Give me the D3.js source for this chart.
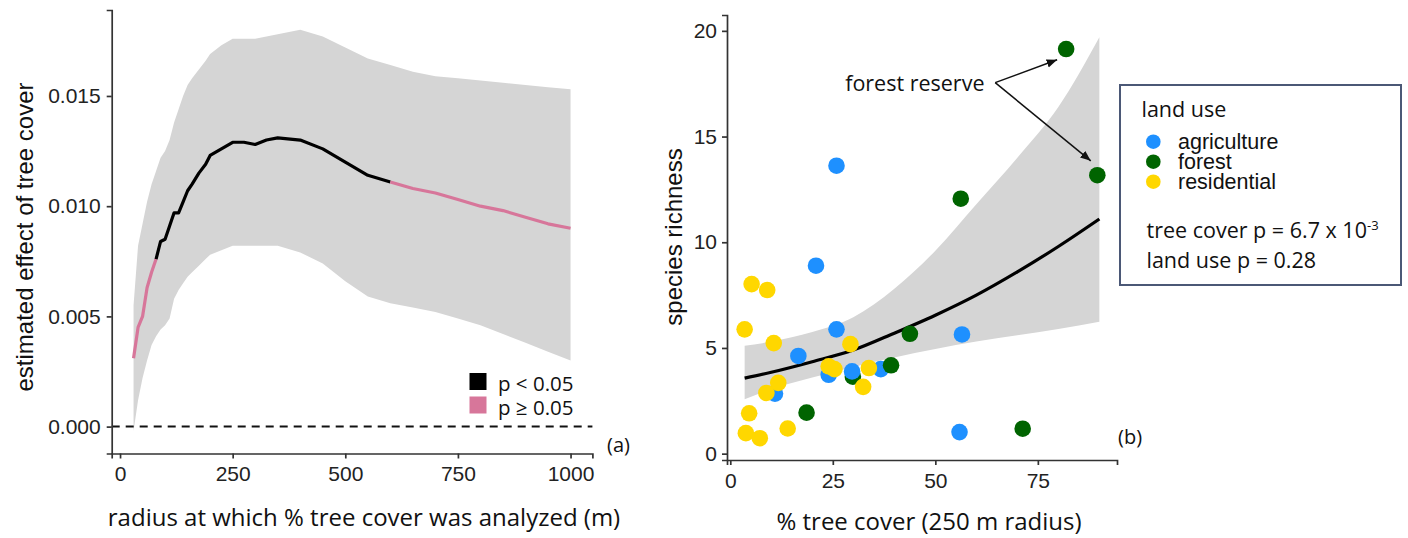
<!DOCTYPE html>
<html lang="en">

<head>
  <meta charset="UTF-8">
  <title>tree cover effect</title>
  <script src="https://d3js.org/d3.v7.min.js"></script>
  <style>
    body { margin: 0; background: white; }
    .axis path, .axis line { stroke: #333; stroke-width: 1.7px; }
    .axis text { font-family: "Liberation Sans", Arial, sans-serif; font-size: 21px; fill: #222; }
    .ytitle { font-family: "Liberation Sans", Arial, sans-serif; font-size: 24px; fill: #111; }
    .xtitle { font-family: "Open Sans", sans-serif; font-size: 24px; fill: #111; }
    .note { font-family: "Open Sans", sans-serif; fill: #111; }
  </style>
</head>

<body>
  <svg id="chart" width="1408" height="538"></svg>

  <script>
    // ---- panel (a): moving-window effect of tree cover ----
    const radius = [30, 40, 50, 60, 70, 80, 90, 100, 110, 120, 130, 140, 150, 160, 175, 190, 200, 225, 250, 275,
      300, 325, 350, 400, 450, 500, 550, 600, 650, 700, 750, 800, 850, 900, 950, 1000];
    const effect = [.0031, .0045, .0050, .0063, .0070, .0076, .0084, .0085, .0091, .0097, .0097, .0102, .0107, .0110,
      .0115, .0119, .0123, .0126, .0129, .0129, .0128, .0130, .0131, .0130, .0126, .0120, .0114, .0111, .0108, .0106,
      .0103, .0100, .0098, .0095, .0092, .0090];
    const effectUpper = [.0055, .0082, .0092, .0102, .0110, .0116, .0122, .0125, .0130, .0138, .0144, .0150, .0155,
      .0158, .0162, .0166, .0169, .0173, .0176, .0176, .0176, .0177, .0178, .0180, .0177, .0172, .0167, .0164, .0161,
      .0159, .0158, .0157, .0156, .0155, .0154, .0153];
    const effectLower = [-.0002, .0012, .0022, .0030, .0037, .0041, .0044, .0046, .0049, .0058, .0062, .0065, .0068,
      .0070, .0073, .0076, .0078, .0080, .0082, .0082, .0082, .0082, .0082, .0079, .0074, .0066, .0059, .0056, .0054,
      .0052, .0049, .0046, .0042, .0038, .0034, .0030];
    // 1 = p < 0.05, 0 = p >= 0.05
    const significant = [0, 0, 0, 0, 0, 1, 1, 1, 1, 1, 1, 1, 1, 1, 1, 1, 1, 1, 1, 1,
      1, 1, 1, 1, 1, 1, 1, 1, 0, 0, 0, 0, 0, 0, 0, 0];
    const radiusTicks = [0, 250, 500, 750, 1000];
    const effectTicks = [0, 0.005, 0.010, 0.015];
    const sigLabels = ["p < 0.05", "p \u2265 0.05"];

    // ---- panel (b): species richness vs tree cover ----
    const treeCover = [81.9, 89.5, 56.2, 43.8, 29.9, 18.6, 71.3,
      25.9, 20.9, 25.9, 56.5, 16.6, 24.0, 29.7, 36.7, 10.9, 55.9,
      5.2, 9.0, 3.5, 10.6, 29.3, 24.0, 25.4, 33.8, 11.7, 8.8, 32.4, 4.6, 3.8, 7.2, 14.0,
      39.2];
    const richness = [19.14, 13.17, 12.06, 5.67, 3.64, 1.94, 1.18,
      13.62, 8.89, 5.88, 5.64, 4.62, 3.73, 3.89, 4.00, 2.84, 1.02,
      8.02, 7.74, 5.88, 5.23, 5.18, 4.13, 4.00, 4.05, 3.35, 2.87, 3.16, 1.91, 0.97, 0.73, 1.19,
      4.18];
    const landUse = ["forest", "forest", "forest", "forest", "forest", "forest", "forest",
      "agriculture", "agriculture", "agriculture", "agriculture", "agriculture", "agriculture", "agriculture",
      "agriculture", "agriculture", "agriculture",
      "residential", "residential", "residential", "residential", "residential", "residential", "residential",
      "residential", "residential", "residential", "residential", "residential", "residential", "residential",
      "residential",
      "forest"];
    const fitCover = [3.5, 10, 20, 30, 40, 50, 60, 70, 80, 90];
    const fitRichness = [3.57, 3.85, 4.35, 4.9, 5.7, 6.55, 7.5, 8.6, 9.8, 11.1];
    const fitUpper = [5.1, 5.3, 5.75, 6.45, 7.8, 9.6, 11.8, 14.0, 16.4, 19.7];
    const fitLower = [2.57, 3.05, 3.6, 4.1, 4.55, 4.95, 5.3, 5.6, 5.9, 6.24];
    const coverTicks = [0, 25, 50, 75];
    const richnessTicks = [0, 5, 10, 15, 20];
    const landUseCats = ["agriculture", "forest", "residential"];
    const landUseColors = ["#1e90ff", "#006400", "#ffd700"];
    // forest reserve label + arrow tips (data units)
    const reserveLabel = { cover: 45.0, rich: 17.55, text: "forest reserve" };
    const arrowStart = [64.6, 17.55];
    const arrowEnds = [[79.7, 18.63], [87.9, 13.85]];

    const svg = d3.select("#chart");
    const gray = "#d5d5d5";
    const pink = "#d7769a";

    // ================= panel (a) =================
    const xA = d3.scaleLinear().domain([-18.5, 1048.5]).range([111.7, 592.4]);
    const yA = d3.scaleLinear().domain([-0.00122, 0.0189]).range([453.5, 10]);
    const A = svg.append("g");

    const rowsA = radius.map((r, i) => ({ r: r, m: effect[i], lo: effectLower[i], hi: effectUpper[i], s: significant[i] }));

    A.append("path").datum(rowsA)
      .attr("fill", gray)
      .attr("d", d3.area().x(d => xA(d.r)).y0(d => yA(d.lo)).y1(d => yA(d.hi)));

    A.append("line")
      .attr("x1", xA.range()[0]).attr("x2", xA.range()[1])
      .attr("y1", yA(0)).attr("y2", yA(0))
      .attr("stroke", "#111").attr("stroke-width", 2).attr("stroke-dasharray", "8,6");

    // split into runs of equal significance; boundary points shared
    const runs = [];
    let cur = null;
    rowsA.forEach((d, i) => {
      if (i === 0) { cur = { s: d.s, pts: [d] }; return; }
      const prev = rowsA[i - 1];
      const segSig = prev.s && d.s ? 1 : 0;
      if (cur.s === segSig) { cur.pts.push(d); }
      else { runs.push(cur); cur = { s: segSig, pts: [prev, d] }; }
    });
    runs.push(cur);
    const lineA = d3.line().x(d => xA(d.r)).y(d => yA(d.m));
    A.selectAll(".run").data(runs).join("path")
      .attr("class", "run")
      .attr("fill", "none")
      .attr("stroke", d => d.s ? "#000" : pink)
      .attr("stroke-width", 3.2)
      .attr("stroke-linejoin", "round")
      .attr("d", d => lineA(d.pts));

    A.append("g").attr("class", "axis")
      .attr("transform", "translate(0," + yA.range()[0] + ")")
      .call(d3.axisBottom(xA).tickValues(radiusTicks).tickFormat(d3.format("d"))
        .tickSizeOuter(0).tickSize(5).tickPadding(8));
    A.append("g").attr("class", "axis")
      .attr("transform", "translate(" + xA.range()[0] + ",0)")
      .call(d3.axisLeft(yA).tickValues(effectTicks).tickFormat(d3.format(".3f")).tickSizeOuter(0).tickSize(5).tickPadding(6));

    A.append("text").attr("class", "ytitle")
      .attr("transform", "translate(24,237) rotate(-90)")
      .attr("text-anchor", "middle").attr("dominant-baseline", "central")
      .text("estimated effect of tree cover");
    A.append("text").attr("class", "xtitle")
      .attr("x", 364).attr("y", 526).attr("text-anchor", "middle")
      .text("radius at which % tree cover was analyzed (m)");

    // significance legend
    const legA = A.append("g").attr("transform", "translate(469.5,373)");
    sigLabels.forEach((lab, i) => {
      legA.append("rect").attr("x", 0).attr("y", i * 23.5).attr("width", 17).attr("height", 17)
        .attr("fill", i === 0 ? "#000" : pink);
      legA.append("text").attr("class", "note").attr("x", 28.5).attr("y", i * 23.5 + 18)
        .style("font-size", "20.5px").text(lab);
    });
    A.append("text").attr("class", "note").attr("x", 607).attr("y", 452)
      .style("font-size", "20px").text("(a)");

    // ================= panel (b) =================
    const xB = d3.scaleLinear().domain([-0.8, 94.3]).range([727, 1117]);
    const yB = d3.scaleLinear().domain([-0.3, 20.75]).range([460, 15]);
    const colorB = d3.scaleOrdinal().domain(landUseCats).range(landUseColors);
    const B = svg.append("g");

    const rowsFit = fitCover.map((c, i) => ({ c: c, m: fitRichness[i], lo: fitLower[i], hi: fitUpper[i] }));
    B.append("path").datum(rowsFit)
      .attr("fill", gray)
      .attr("d", d3.area().curve(d3.curveMonotoneX).x(d => xB(d.c)).y0(d => yB(d.lo)).y1(d => yB(d.hi)));
    B.append("path").datum(rowsFit)
      .attr("fill", "none").attr("stroke", "#000").attr("stroke-width", 3.2)
      .attr("d", d3.line().curve(d3.curveMonotoneX).x(d => xB(d.c)).y(d => yB(d.m)));

    const pts = treeCover.map((c, i) => ({ c: c, r: richness[i], u: landUse[i] }));
    B.selectAll("circle.pt").data(pts).join("circle")
      .attr("class", "pt")
      .attr("cx", d => xB(d.c)).attr("cy", d => yB(d.r)).attr("r", 8.3)
      .attr("fill", d => colorB(d.u));

    B.append("g").attr("class", "axis")
      .attr("transform", "translate(0," + yB.range()[0] + ")")
      .call(d3.axisBottom(xB).tickValues(coverTicks).tickSizeOuter(0).tickSize(5).tickPadding(8));
    B.append("g").attr("class", "axis")
      .attr("transform", "translate(" + xB.range()[0] + ",0)")
      .call(d3.axisLeft(yB).tickValues(richnessTicks).tickSizeOuter(0).tickSize(5).tickPadding(5));

    B.append("text").attr("class", "ytitle")
      .attr("transform", "translate(673,237) rotate(-90)")
      .attr("text-anchor", "middle").attr("dominant-baseline", "central")
      .text("species richness");
    B.append("text").attr("class", "xtitle")
      .attr("x", 929).attr("y", 530).attr("text-anchor", "middle")
      .text("% tree cover (250 m radius)");
    B.append("text").attr("class", "note").attr("x", 1118).attr("y", 444)
      .style("font-size", "20px").text("(b)");

    // forest reserve annotation
    svg.append("defs").append("marker")
      .attr("id", "arrow").attr("viewBox", "0 0 10 10").attr("refX", 10).attr("refY", 5)
      .attr("markerWidth", 7).attr("markerHeight", 7).attr("orient", "auto")
      .append("path").attr("d", "M0,1 L10,5 L0,9 Z").attr("fill", "#111");
    B.append("text").attr("class", "note")
      .attr("x", xB(reserveLabel.cover)).attr("y", yB(reserveLabel.rich))
      .attr("text-anchor", "middle").attr("dominant-baseline", "central")
      .style("font-size", "21.5px").text(reserveLabel.text);
    arrowEnds.forEach(e => {
      B.append("line")
        .attr("x1", xB(arrowStart[0])).attr("y1", yB(arrowStart[1]))
        .attr("x2", xB(e[0])).attr("y2", yB(e[1]))
        .attr("stroke", "#111").attr("stroke-width", 1.5)
        .attr("marker-end", "url(#arrow)");
    });

    // land use legend box
    const leg = svg.append("g");
    leg.append("rect").attr("x", 1120).attr("y", 85).attr("width", 281).attr("height", 200)
      .attr("fill", "white").attr("stroke", "#4b5876").attr("stroke-width", 2);
    leg.append("text").attr("class", "note").attr("x", 1141.5).attr("y", 116.5)
      .style("font-size", "21.5px").text("land use");
    landUseCats.forEach((cat, i) => {
      leg.append("circle").attr("cx", 1153.3).attr("cy", 141.7 + i * 20).attr("r", 7.3)
        .attr("fill", colorB(cat));
      leg.append("text").attr("x", 1178).attr("y", 148.8 + i * 20)
        .style("font-family", "'Liberation Sans', Arial, sans-serif").style("font-size", "21.5px")
        .attr("fill", "#111").text(cat);
    });
    const stat1 = leg.append("text").attr("class", "note").attr("x", 1146.5).attr("y", 238.3)
      .style("font-size", "21.5px");
    stat1.append("tspan").text("tree cover p = 6.7 x 10");
    stat1.append("tspan").attr("dy", -8).style("font-size", "13px").text("-3");
    leg.append("text").attr("class", "note").attr("x", 1146.5).attr("y", 268.3)
      .style("font-size", "21.5px").text("land use p = 0.28");
  </script>
</body>

</html>
